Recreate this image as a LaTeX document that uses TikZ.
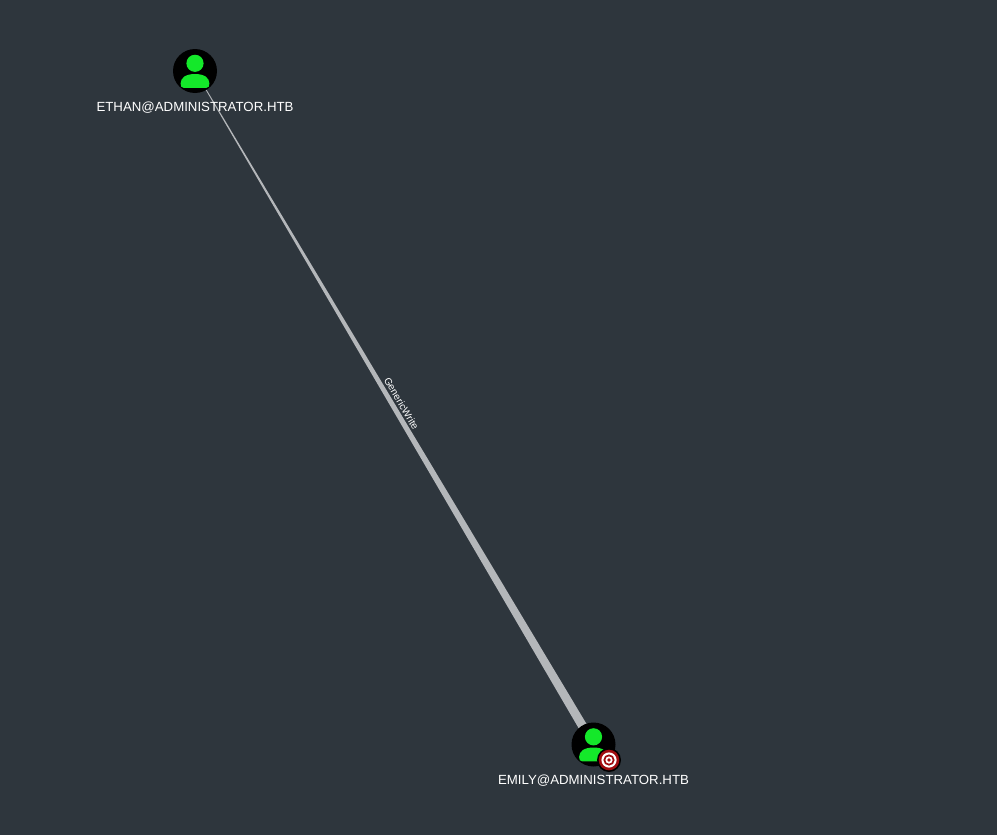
\documentclass[tikz,border=0pt]{standalone}
\usepackage{fontspec}
\setmainfont{Liberation Sans}
\usetikzlibrary{calc}
\definecolor{bgc}{HTML}{2E363D}
\definecolor{grn}{HTML}{14E82A}
\definecolor{edgec}{HTML}{B4B7BA}
\definecolor{redc}{HTML}{A00C10}
\tikzset{
  usernode/.style={circle,fill=black,minimum size=44pt,inner sep=0pt},
  userlabel/.style={text=white,font=\fontsize{13.25}{16}\selectfont,inner sep=0pt},
  edgelabel/.style={text=white,font=\fontsize{10}{11}\selectfont,inner sep=0pt},
  persona/.pic={
    \fill[grn] (0,-7.7) circle (8.6);
    \fill[grn] (-14.4,12.5) .. controls (-14.4,6.5) and (-9,3) .. (0,3) .. controls (9,3) and (14.4,6.5) .. (14.4,12.5)
      .. controls (14.4,15.5) and (13.5,16.8) .. (11.5,16.8) -- (-11.5,16.8) .. controls (-13.5,16.8) and (-14.4,15.5) .. (-14.4,12.5) -- cycle;
  }
}
\begin{document}
\begin{tikzpicture}[x=1pt,y=-1pt]
\useasboundingbox (0,0) rectangle (997,835);
\fill[bgc] (0,0) rectangle (997,835);
\coordinate (ethanC) at (195,71);
\coordinate (emilyC) at (593.5,744.5);
\fill[edgec] ($(ethanC)!0.3pt!90:(emilyC)$) -- ($(ethanC)!0.3pt!-90:(emilyC)$)
  -- ($(emilyC)!4.6pt!90:(ethanC)$) -- ($(emilyC)!4.6pt!-90:(ethanC)$) -- cycle;
\node[usernode] (ethan) at (ethanC) {};
\pic at (ethan) {persona};
\node[usernode] (emily) at (emilyC) {};
\pic at (emily) {persona};
\node[userlabel] (ethanlabel) at (195,108) {ETHAN@ADMINISTRATOR.HTB};
\node[userlabel] (emilylabel) at (593.5,781) {EMILY@ADMINISTRATOR.HTB};
\node[edgelabel,rotate=-59.4] (edgelbl) at (401.5,403.5) {GenericWrite};
\node[circle,fill=black,minimum size=24pt,inner sep=0pt] (badge) at (609,760) {};
\fill[redc] (badge) circle (10.3);
\fill[white] (badge) circle (7.6);
\fill[redc] (badge) circle (5.6);
\fill[white] (badge) circle (3.6);
\fill[redc] (badge) circle (1.9);
\end{tikzpicture}
\end{document}
